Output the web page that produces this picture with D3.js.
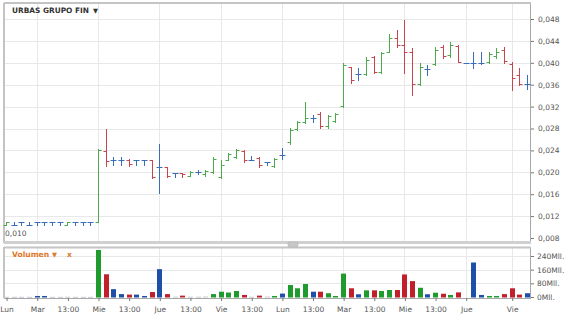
<!DOCTYPE html>
<html>
<head>
<meta charset="utf-8">
<script src="https://cdn.jsdelivr.net/npm/d3@7"></script>
<style>
  body { margin: 0; background: #fff; }
  svg text { font-family: "DejaVu Sans", Verdana, sans-serif; }
</style>
</head>
<body>
<div id="chart"></div>
<script>
//svg size
let svgWidth = 565;
let svgHeight = 317;

// hourly bars, 8 per day (first day starts at 13:00)
let opens = [
  0.0103, 0.0103, 0.0110, 0.0103, 0.0110, 0.0110, 0.0110, 0.0110, 0.0103, 0.0110, 0.0110, 0.0110,
  0.0110, 0.0238, 0.0222, 0.0222, 0.0222, 0.0222, 0.0222, 0.0222, 0.0210, 0.0210, 0.0198, 0.0198,
  0.0194, 0.0200, 0.0196, 0.0201, 0.0192, 0.0222, 0.0228, 0.0238, 0.0222, 0.0226, 0.0218, 0.0212,
  0.0232, 0.0255, 0.0279, 0.0292, 0.0300, 0.0306, 0.0284, 0.0294, 0.0322, 0.0392, 0.0380, 0.0380,
  0.0410, 0.0384, 0.0420, 0.0446, 0.0432, 0.0420, 0.0362, 0.0388, 0.0398, 0.0428, 0.0414, 0.0430,
  0.0400, 0.0400, 0.0400, 0.0402, 0.0412, 0.0424, 0.0398, 0.0378, 0.0362
];
let highs = [
  0.0110, 0.0110, 0.0110, 0.0110, 0.0110, 0.0110, 0.0110, 0.0110, 0.0110, 0.0110, 0.0110, 0.0110,
  0.0242, 0.0280, 0.0228, 0.0228, 0.0224, 0.0222, 0.0222, 0.0222, 0.0252, 0.0210, 0.0198, 0.0198,
  0.0202, 0.0204, 0.0204, 0.0228, 0.0222, 0.0236, 0.0242, 0.0240, 0.0230, 0.0228, 0.0218, 0.0226,
  0.0244, 0.0281, 0.0293, 0.0329, 0.0305, 0.0310, 0.0305, 0.0308, 0.0400, 0.0393, 0.0390, 0.0410,
  0.0412, 0.0420, 0.0452, 0.0460, 0.0478, 0.0427, 0.0400, 0.0396, 0.0429, 0.0432, 0.0438, 0.0432,
  0.0400, 0.0420, 0.0420, 0.0420, 0.0427, 0.0429, 0.0401, 0.0390, 0.0378
];
let lows = [
  0.0103, 0.0103, 0.0103, 0.0103, 0.0103, 0.0103, 0.0103, 0.0103, 0.0103, 0.0103, 0.0103, 0.0103,
  0.0110, 0.0212, 0.0214, 0.0214, 0.0212, 0.0214, 0.0214, 0.0190, 0.0162, 0.0192, 0.0192, 0.0192,
  0.0193, 0.0196, 0.0194, 0.0199, 0.0190, 0.0222, 0.0226, 0.0218, 0.0222, 0.0210, 0.0213, 0.0210,
  0.0224, 0.0252, 0.0277, 0.0290, 0.0292, 0.0281, 0.0281, 0.0292, 0.0319, 0.0363, 0.0368, 0.0378,
  0.0381, 0.0381, 0.0420, 0.0428, 0.0381, 0.0341, 0.0359, 0.0378, 0.0396, 0.0409, 0.0411, 0.0401,
  0.0400, 0.0390, 0.0398, 0.0400, 0.0409, 0.0400, 0.0350, 0.0359, 0.0352
];
let closes = [
  0.0110, 0.0103, 0.0110, 0.0103, 0.0110, 0.0110, 0.0110, 0.0110, 0.0110, 0.0110, 0.0110, 0.0110,
  0.0240, 0.0220, 0.0222, 0.0222, 0.0216, 0.0222, 0.0222, 0.0192, 0.0210, 0.0194, 0.0198, 0.0196,
  0.0200, 0.0200, 0.0202, 0.0224, 0.0214, 0.0234, 0.0240, 0.0222, 0.0222, 0.0214, 0.0218, 0.0224,
  0.0232, 0.0278, 0.0291, 0.0300, 0.0300, 0.0285, 0.0302, 0.0306, 0.0396, 0.0368, 0.0380, 0.0406,
  0.0384, 0.0418, 0.0446, 0.0432, 0.0420, 0.0362, 0.0392, 0.0388, 0.0424, 0.0412, 0.0432, 0.0402,
  0.0400, 0.0400, 0.0400, 0.0416, 0.0420, 0.0404, 0.0372, 0.0362, 0.0362
];
// volume in millions
let volumes = [
  1, 1, 1, 1, 6, 6, 1, 1, 2, 1, 1, 1,
  275, 133, 46, 17, 14, 14, 6, 29, 163, 17, 2, 8,
  2, 2, 3, 17, 31, 26, 35, 12, 2, 8, 3, 6,
  20, 70, 51, 76, 31, 31, 22, 6, 137, 51, 16, 39,
  39, 35, 41, 41, 132, 93, 54, 16, 25, 19, 12, 27,
  0, 202, 12, 6, 6, 17, 51, 14, 22
];

let xTickIdx = [0, 4, 8, 12, 16, 20, 24, 28, 32, 36, 40, 44, 48, 52, 56, 60, 66];
let xTickLabels = ["Lun", "Mar", "13:00", "Mie", "13:00", "Jue", "13:00", "Vie", "13:00",
  "Lun", "13:00", "Mar", "13:00", "Mie", "13:00", "Jue", "Vie"];
let dayStartIdx = [4, 12, 20, 28, 36, 44, 52, 60, 66];
let priceTicks = [0.008, 0.012, 0.016, 0.020, 0.024, 0.028, 0.032, 0.036, 0.040, 0.044, 0.048];
let volumeTicks = [0, 80, 160, 240];

let bars = opens.map((o, i) => ({
  i: i, open: o, high: highs[i], low: lows[i], close: closes[i], volume: volumes[i]
}));

let colorUp = "#4caa4c";
let colorDown = "#c8454f";
let colorFlat = "#3a6dbc";
let volUp = "#1f9a2c";
let volDown = "#c01f2b";
let volFlat = "#1f50a8";

function barColor(d, up, down, flat) {
  if (d.close > d.open) return up;
  if (d.close < d.open) return down;
  return flat;
}

/********************************************/
let svg = d3.select("#chart").append("svg")
  .attr("width", svgWidth)
  .attr("height", svgHeight);

let mainBox = { left: 4, right: 530, top: 3, bottom: 243 };
let volBox = { left: 4, right: 530, top: 247, bottom: 298 };

let xScale = d3.scaleLinear().domain([0, 68]).range([6.1, 527]);
let yPrice = d3.scaleLinear().domain([0.008, 0.048]).range([238, 19]);
let yVol = d3.scaleLinear().domain([0, 240]).range([297, 256]);

let px = (i) => Math.round(xScale(i)) + 0.5;

/********************************************/
//grid lines
function drawGrid(box, yVals, yFn) {
  let g = svg.append("g").attr("stroke", "#e8e8e8").attr("stroke-width", 1);
  g.selectAll(".vg").data(dayStartIdx).enter().append("line")
    .attr("x1", (d) => px(d)).attr("x2", (d) => px(d))
    .attr("y1", box.top).attr("y2", box.bottom);
  g.selectAll(".hg").data(yVals).enter().append("line")
    .attr("x1", box.left).attr("x2", box.right)
    .attr("y1", (d) => Math.round(yFn(d)) + 0.5)
    .attr("y2", (d) => Math.round(yFn(d)) + 0.5);
}
drawGrid(mainBox, priceTicks.slice(1), yPrice);
drawGrid(volBox, volumeTicks.slice(1), yVol);

/********************************************/
//frames
svg.append("rect")
  .attr("x", mainBox.left + 0.5).attr("y", mainBox.top + 0.5)
  .attr("width", mainBox.right - mainBox.left).attr("height", mainBox.bottom - mainBox.top)
  .attr("fill", "none").attr("stroke", "#a8a8a8");
svg.append("line").attr("x1", 4).attr("x2", 4).attr("y1", 3).attr("y2", 243)
  .attr("stroke", "#c4c4c4").attr("stroke-width", 2);
svg.append("line").attr("x1", 4).attr("x2", 531).attr("y1", 3).attr("y2", 3)
  .attr("stroke", "#c4c4c4").attr("stroke-width", 2);
svg.append("line").attr("x1", 4).attr("x2", 531).attr("y1", 242.5).attr("y2", 242.5)
  .attr("stroke", "#d0d0d0").attr("stroke-width", 3);

svg.append("rect")
  .attr("x", volBox.left + 0.5).attr("y", volBox.top + 0.5)
  .attr("width", volBox.right - volBox.left).attr("height", volBox.bottom - volBox.top)
  .attr("fill", "none").attr("stroke", "#a8a8a8");
svg.append("line").attr("x1", 4).attr("x2", 4).attr("y1", 247).attr("y2", 298)
  .attr("stroke", "#c4c4c4").attr("stroke-width", 2);
svg.append("line").attr("x1", 4).attr("x2", 531).attr("y1", 247.5).attr("y2", 247.5)
  .attr("stroke", "#c4c4c4").attr("stroke-width", 2);

// splitter grip
svg.append("rect").attr("x", 288).attr("y", 242).attr("width", 10).attr("height", 5)
  .attr("rx", 1).attr("fill", "#c8c8c8").attr("stroke", "#b0b0b0").attr("stroke-width", 0.5);

/********************************************/
//ohlc bars
let ohlc = svg.append("g").attr("stroke-width", 1);
let barG = ohlc.selectAll("g").data(bars).enter().append("g")
  .attr("stroke", (d) => barColor(d, colorUp, colorDown, colorFlat));
barG.append("line")
  .attr("x1", (d) => px(d.i)).attr("x2", (d) => px(d.i))
  .attr("y1", (d) => Math.round(yPrice(d.high)))
  .attr("y2", (d) => Math.round(yPrice(d.low)) + 1);
barG.append("line")
  .attr("x1", (d) => px(d.i) - 3).attr("x2", (d) => px(d.i))
  .attr("y1", (d) => Math.round(yPrice(d.open)) + 0.5)
  .attr("y2", (d) => Math.round(yPrice(d.open)) + 0.5);
barG.append("line")
  .attr("x1", (d) => px(d.i)).attr("x2", (d) => px(d.i) + 3)
  .attr("y1", (d) => Math.round(yPrice(d.close)) + 0.5)
  .attr("y2", (d) => Math.round(yPrice(d.close)) + 0.5);

/********************************************/
//volume bars
svg.append("g").selectAll("rect")
  .data(bars.filter((d) => d.volume > 0)).enter().append("rect")
  .attr("x", (d) => Math.round(xScale(d.i)) - 2)
  .attr("width", 5)
  .attr("y", (d) => yVol(d.volume))
  .attr("height", (d) => Math.max(1, 297.5 - yVol(d.volume)))
  .attr("fill", (d) => d.volume < 4 ? "#c8ccd4" : barColor(d, volUp, volDown, volFlat));

/********************************************/
//axes
let priceAxis = d3.axisRight(yPrice).tickValues(priceTicks).tickSize(3).tickPadding(4)
  .tickFormat((d) => d3.format(".3f")(d).replace(".", ","));
let pa = svg.append("g").attr("transform", "translate(531,0)").call(priceAxis);

let volAxis = d3.axisRight(yVol).tickValues(volumeTicks).tickSize(3).tickPadding(3)
  .tickFormat((d) => d + "Mll.");
let va = svg.append("g").attr("transform", "translate(531,0)").call(volAxis);

let xAxis = d3.axisBottom(xScale).tickValues(xTickIdx).tickSize(3).tickPadding(6)
  .tickFormat((d, i) => xTickLabels[i]);
let xa = svg.append("g").attr("transform", "translate(0.5,298)").call(xAxis);

[pa, va, xa].forEach((a) => {
  a.select(".domain").remove();
  a.selectAll("line").attr("stroke", "#777");
  a.selectAll("text").attr("fill", "#555").attr("font-size", "7.5px")
    .style("font-family", '"DejaVu Sans", Verdana, sans-serif');
});

/********************************************/
//labels
svg.append("text").attr("x", 12).attr("y", 13)
  .attr("font-size", "7.4px").attr("font-weight", "bold").attr("fill", "#333")
  .text("URBAS GRUPO FIN");
svg.append("text").attr("x", 93).attr("y", 13)
  .attr("font-size", "6.5px").attr("fill", "#333").text("▼");

svg.append("text").attr("x", 5).attr("y", 236)
  .attr("font-size", "7.5px").attr("fill", "#555")
  .text(d3.format(".3f")(d3.min(lows)).replace(".", ","));

svg.append("text").attr("x", 12).attr("y", 257)
  .attr("font-size", "7.6px").attr("font-weight", "bold").attr("fill", "#e0782a")
  .text("Volumen");
svg.append("text").attr("x", 52).attr("y", 257)
  .attr("font-size", "6.5px").attr("fill", "#e0782a").text("▼");
svg.append("text").attr("x", 67).attr("y", 257)
  .attr("font-size", "7.5px").attr("font-weight", "bold").attr("fill", "#e0782a").text("x");
</script>
</body>
</html>
